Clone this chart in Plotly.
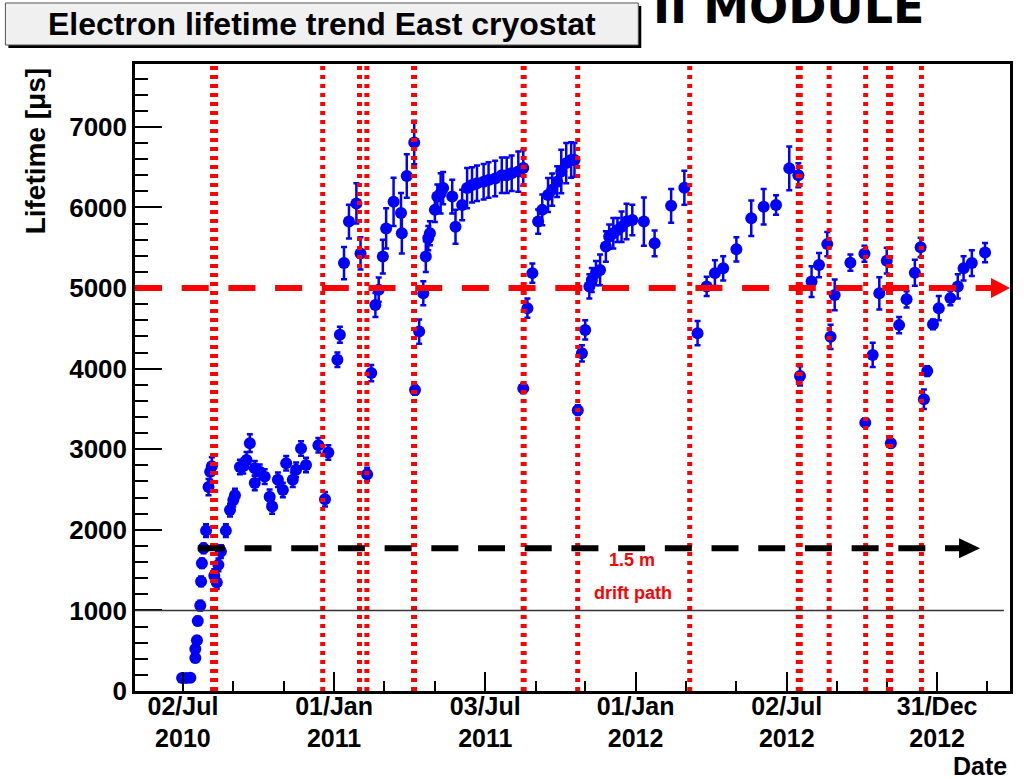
import plotly.graph_objects as go
import pandas as pd

# ---- data (days since 02/Jul/2010, lifetime in microseconds, error) ----
days = [-1, 4, 9, 15, 15, 17, 18, 21, 22, 23, 25, 28, 31, 33, 35, 38, 41, 43, 46, 52,
        57, 61, 63, 69, 73, 77, 81, 87, 87, 93, 99, 105, 108, 115, 121, 125, 133, 137, 143, 149,
        164, 172, 176,
        187, 190, 195, 201, 210, 215, 223, 228, 233, 237, 242, 246, 255, 264, 265, 271, 280, 281, 286, 291,
        294, 297, 299, 305, 308, 312, 315, 326, 330, 338, 344, 350, 356, 364, 370, 378, 386, 392, 398, 406,
        412, 412, 417, 423,
        430, 435, 442, 447, 453, 458, 464, 470, 474, 478, 483, 487,
        492, 495, 500, 505, 512, 516, 521, 526, 531, 537, 544, 558, 571, 591, 607, 623,
        634, 644, 654, 670, 688, 703, 718, 734, 745, 747, 761, 770, 780, 784, 789,
        808, 825, 826, 835, 843, 852, 857, 867, 876, 886, 893, 897, 901, 908, 915,
        929, 938, 945, 955, 971]
lifetime = [160, 160, 165, 410, 520, 630, 870, 1060, 1360, 1585, 1770, 1990, 2530, 2720, 2790, 1430, 1345, 1565, 1730, 1990,
            2245, 2370, 2430, 2780, 2790, 2865, 3075, 2765, 2580, 2720, 2660, 2410, 2290, 2620, 2495, 2825, 2620, 2745, 3010, 2805,
            3050, 2380, 2960,
            4110, 4420, 5310, 5825, 6050, 5430, 2690, 3945, 4790, 4980, 5390, 5740, 6070, 5930, 5680, 6390, 6805, 3735, 4460, 4935,
            5390, 5620, 5680, 5970, 6135, 6175, 6240, 6135, 5760, 6030, 6240, 6280, 6300, 6320, 6340, 6360, 6400, 6400, 6425, 6445,
            6490, 3755, 4750, 5185,
            5825, 5970, 6155, 6220, 6320, 6445, 6550, 6590, 6590, 3485, 4190, 4480,
            5020, 5100, 5185, 5225, 5515, 5640, 5680, 5720, 5760, 5825, 5845, 5825, 5555, 6020, 6245, 4440,
            5020, 5185, 5245, 5480, 5865, 6010, 6030, 6485, 6400, 3910, 5080, 5285, 5545, 4395, 4915,
            5315, 5425, 3330, 4170, 4935, 5340, 3075, 4540, 4860, 5190, 5505, 3620, 3970, 4550, 4750,
            4875, 5020, 5245, 5310, 5440]
error = [40, 40, 40, 50, 50, 50, 50, 60, 60, 60, 60, 80, 100, 100, 110, 80, 80, 80, 80, 80,
         80, 80, 80, 90, 90, 100, 110, 90, 90, 90, 90, 90, 90, 90, 90, 90, 90, 90, 90, 90,
         90, 90, 90,
         90, 100, 200, 210, 250, 200, 80, 100, 150, 150, 210, 250, 300, 250, 250, 270, 270, 60, 150, 150,
         190, 150, 150, 150, 150, 250, 200, 210, 210, 190, 250, 220, 220, 220, 220, 220, 220, 220, 220, 250,
         220, 60, 120, 120,
         150, 190, 210, 200, 190, 270, 250, 220, 210, 60, 100, 120,
         150, 150, 150, 190, 190, 150, 190, 150, 190, 220, 190, 300, 160, 210, 210, 150,
         120, 160, 150, 150, 220, 220, 120, 270, 150, 120, 190, 150, 150, 150, 190,
         100, 100, 50, 150, 200, 160, 50, 100, 100, 160, 120, 120, 60, 60, 150,
         90, 150, 150, 160, 120]

# purification / intervention dates (days since 02/Jul/2010)
event_days = [37.7, 169.2, 213.8, 222.7, 279.8, 412.5, 477.9, 613.5, 746.1, 782.3, 826.5, 855.4, 894.0]
event_widths = [8, 5, 5, 5, 6, 6, 5, 5, 7, 5, 5, 7, 5]

tick_dates = ["2010-07-02", "2011-01-01", "2011-07-03", "2012-01-01", "2012-07-02", "2012-12-31"]
tick_text = ["02/Jul<br>2010", "01/Jan<br>2011", "03/Jul<br>2011", "01/Jan<br>2012", "02/Jul<br>2012", "31/Dec<br>2012"]
minor_dates = ["2010-09-01", "2010-11-01", "2011-03-03", "2011-05-03", "2011-09-02", "2011-11-01",
               "2012-03-02", "2012-05-02", "2012-09-01", "2012-10-31", "2013-03-01"]

required_lifetime = 5000      # red reference
drift_time = 1770             # black reference (1.5 m drift path)
reference_1ms = 1000

origin = pd.Timestamp("2010-07-02")
dates = [origin + pd.Timedelta(days=d) for d in days]
event_dates = [origin + pd.Timedelta(days=d) for d in event_days]

FONT = "Liberation Sans, Arial, sans-serif"

fig = go.Figure()
fig.add_trace(go.Scatter(
    x=dates, y=lifetime, mode="markers",
    marker=dict(color="#0000ff", size=12, line=dict(width=0)),
    error_y=dict(type="data", array=error, visible=True, color="#0000ff", thickness=2.5, width=3),
    showlegend=False, hoverinfo="x+y"))

shapes = []
for d, w in zip(event_dates, event_widths):
    shapes.append(dict(type="line", xref="x", yref="paper", x0=d, x1=d, y0=0, y1=1,
                       line=dict(color="#ff0000", width=w, dash="4px,5px")))
# 1 ms thin line
shapes.append(dict(type="line", xref="paper", yref="y", x0=0, x1=0.993, y0=reference_1ms, y1=reference_1ms,
                   line=dict(color="#333333", width=1.5)))
# red dashed 5 ms line with arrow
shapes.append(dict(type="line", xref="paper", yref="y", x0=0, x1=0.9795, y0=required_lifetime, y1=required_lifetime,
                   line=dict(color="#ff0000", width=6, dash="27px,19.7px")))
shapes.append(dict(type="path", xref="paper", yref="y", xsizemode="pixel", ysizemode="pixel",
                   xanchor=1, yanchor=required_lifetime,
                   path="M -19,10 L 0,0 L -19,-10 Z", fillcolor="#ff0000", line=dict(width=0)))
# black dashed drift-time line with arrow
shapes.append(dict(type="line", xref="paper", yref="y", x0=0.0718, x1=0.943, y0=drift_time, y1=drift_time,
                   line=dict(color="#000000", width=6, dash="27px,19.7px")))
shapes.append(dict(type="path", xref="paper", yref="y", xsizemode="pixel", ysizemode="pixel",
                   xanchor=0.9658, yanchor=drift_time,
                   path="M -21,10 L 0,0 L -21,-10 Z", fillcolor="#000000", line=dict(width=0)))
# title box with shadow
shapes.append(dict(type="rect", xref="paper", yref="paper", x0=-0.1447, x1=0.5786, y0=1.0255, y1=1.0925,
                   fillcolor="#000000", line=dict(width=0), layer="above"))
shapes.append(dict(type="rect", xref="paper", yref="paper", x0=-0.1481, x1=0.5752, y0=1.0303, y1=1.0973,
                   fillcolor="#f0f0f0", line=dict(color="#555555", width=1), layer="above"))

annotations = [
    dict(text="<b>Electron lifetime trend East cryostat</b>", xref="paper", yref="paper",
         x=0.2135, y=1.0638, xanchor="center", yanchor="middle", showarrow=False,
         font=dict(family=FONT, size=32, color="black")),
    dict(text="<b>II MODULE</b>", xref="paper", yref="paper", x=0.747, y=1.045, xanchor="center",
         yanchor="bottom", showarrow=False, font=dict(family="Comic Sans MS, DejaVu Sans", size=46, color="black")),
    dict(text="<b>Lifetime [\u03bcs]</b>", xref="paper", yref="paper", x=(36 - 135) / 878, y=(691 - 151) / 627,
         xanchor="center", yanchor="middle", textangle=-90, showarrow=False,
         font=dict(family=FONT, size=28, color="black")),
    dict(text="<b>Date</b>", xref="paper", yref="paper", x=(1012 - 135) / 878, y=(691 - 766) / 627,
         xanchor="right", yanchor="middle", showarrow=False, font=dict(family=FONT, size=25, color="black")),
    dict(text="<b>1.5 m</b>", xref="paper", yref="paper", x=(634 - 135) / 878, y=(691 - 560) / 627,
         xanchor="center", yanchor="middle", showarrow=False, font=dict(family=FONT, size=18, color="#ff0000")),
    dict(text="<b>drift path</b>", xref="paper", yref="paper", x=(635 - 135) / 878, y=(691 - 593) / 627,
         xanchor="center", yanchor="middle", showarrow=False, font=dict(family=FONT, size=18, color="#ff0000")),
]

fig.update_layout(
    width=1024, height=779,
    margin=dict(l=135, r=11, t=64, b=88, pad=0),
    paper_bgcolor="white", plot_bgcolor="white",
    font=dict(family=FONT, color="black"),
    shapes=shapes, annotations=annotations,
    xaxis=dict(type="date", range=["2010-05-05", "2013-03-29 05:00"],
               tickmode="array", tickvals=tick_dates, ticktext=tick_text,
               ticks="inside", ticklen=19, tickwidth=1.5, tickcolor="black", ticklabelstandoff=-9,
               minor=dict(tickmode="array", tickvals=minor_dates, ticks="inside", ticklen=10,
                          tickwidth=1.5, tickcolor="black", showgrid=False),
               tickfont=dict(family=FONT, size=25, weight="bold"),
               showline=True, linecolor="black", linewidth=2.5, mirror=True,
               showgrid=False, zeroline=False),
    yaxis=dict(range=[0, 7780], tickmode="array", tickvals=[0, 1000, 2000, 3000, 4000, 5000, 6000, 7000],
               ticks="inside", ticklen=27, tickwidth=1.5, tickcolor="black",
               minor=dict(dtick=200, ticks="inside", ticklen=13, tickwidth=1.5, tickcolor="black", showgrid=False),
               tickfont=dict(family=FONT, size=26, weight="bold"),
               showline=True, linecolor="black", linewidth=2.5, mirror=True,
               showgrid=False, zeroline=False),
)

fig.write_html("out.html")
